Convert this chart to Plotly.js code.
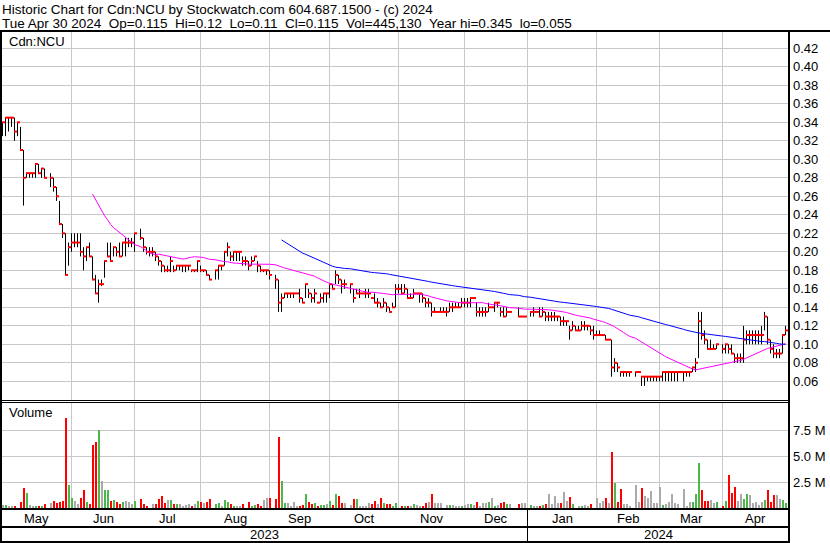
<!DOCTYPE html>
<html>
<head>
<meta charset="utf-8">
<script src="https://cdn.plot.ly/plotly-3.0.1.min.js"></script>
<style>
html,body{margin:0;padding:0;background:#fff;}
#chart{width:830px;height:543px;}
</style>
</head>
<body>
<div id="chart"></div>
<script>
// One slot per weekday, 1 May 2023 .. 30 Apr 2024 (null = exchange holiday)
const high = [
.34,.345,.345,.345,.345,.34,.335,.31,.285,.285,
.285,.295,.295,.29,.29,null,.285,.28,.27,.255,
.23,.22,.21,.22,.22,.22,.22,.205,.205,.21,
.195,.175,.17,.17,.19,.21,.21,.205,.205,.21,
.21,.215,.215,.215,.22,null,.225,.215,.205,.205,
.205,.20,.195,.19,.185,.185,.195,.185,.185,.185,
.185,.185,.185,.18,.18,.19,.185,.18,.18,.175,
null,.18,.185,.185,.20,.21,.20,.20,.20,.20,
.195,.195,.19,.195,.195,.19,.185,.18,.18,.18,
null,.175,.17,.155,.155,.155,.155,.155,.155,.16,
.15,.165,.16,.155,.16,.145,.155,.155,.155,.165,
.165,.18,.175,.17,.17,null,.165,.16,.16,.16,
.155,.16,.16,.15,.155,.15,.145,.15,.145,.14,
.145,.165,.165,.165,.165,.16,.155,.16,.155,.155,
.155,.15,.15,.145,.14,.135,.14,.14,.14,.145,
.145,.145,.145,.15,.15,.15,.15,.15,.145,.14,
.14,.14,.145,.14,.145,.145,.14,.14,.14,.135,
null,null,.14,.13,.13,null,.135,.14,.135,.14,
.14,.135,.135,.135,.135,.13,.13,.13,.125,.12,
.125,.12,.12,.125,.125,.12,.12,.12,.115,.115,
.11,.11,.105,.105,.085,.08,.07,.07,.07,.07,
null,.07,.07,.065,.065,.065,.065,.065,.065,.065,
.07,.07,.07,.07,.07,.07,.07,.07,.07,.07,
.075,.085,.135,.135,.115,.105,.105,.10,.10,null,
.10,.10,.10,.10,.09,.09,.09,.12,.115,.115,
.115,.115,.115,.12,.135,.13,.105,.10,.095,.095,
.11,.12
];
const low = [
.325,.325,.33,.335,.32,.325,.31,.25,.28,.28,
.28,.28,.285,.28,.28,null,.27,.265,.255,.23,
.215,.175,.185,.20,.205,.205,.195,.18,.19,.195,
.17,.155,.145,.163,.172,.195,.19,.195,.195,.195,
.195,.195,.205,.205,.20,null,.213,.20,.197,.195,
.195,.19,.185,.178,.178,.178,.178,.178,.18,.18,
.178,.178,.18,.178,.178,.178,.178,.178,.175,.17,
null,.17,.17,.18,.185,.195,.19,.19,.19,.19,
.185,.185,.18,.185,.19,.178,.178,.178,.175,.17,
null,.16,.135,.135,.15,.15,.15,.15,.155,.145,
.145,.15,.15,.145,.145,.145,.145,.145,.145,.15,
.16,.165,.165,.155,.16,null,.155,.145,.155,.15,
.155,.15,.15,.15,.145,.14,.14,.14,.135,.135,
.14,.14,.155,.155,.155,.15,.15,.15,.155,.145,
.145,.14,.14,.13,.135,.135,.135,.135,.13,.135,
.135,.14,.14,.14,.14,.14,.14,.15,.13,.13,
.13,.13,.135,.14,.135,.14,.13,.13,.13,.135,
null,null,.13,.13,.13,null,.13,.13,.135,.13,
.13,.125,.125,.125,.125,.125,.12,.12,.12,.105,
.115,.115,.115,.115,.115,.115,.11,.105,.11,.11,
.11,.105,.105,.065,.07,.07,.065,.065,.065,.065,
null,.065,.07,.055,.055,.06,.06,.06,.06,.06,
.06,.06,.06,.06,.06,.06,.07,.06,.065,.065,
.07,.07,.085,.105,.10,.095,.095,.095,.095,null,
.09,.09,.09,.09,.08,.08,.08,.08,.10,.10,
.10,.10,.10,.10,.115,.10,.09,.085,.085,.085,
.09,.11
];
const close = [
.34,.345,.345,.345,.33,.34,.31,.28,.285,.285,
.285,.295,.285,.29,.28,null,.28,.27,.26,.23,
.22,.175,.205,.21,.21,.21,.20,.195,.205,.195,
.17,.155,.165,.165,.19,.195,.19,.205,.20,.195,
.21,.21,.21,.21,.22,null,.215,.205,.20,.20,
.20,.195,.19,.185,.18,.18,.19,.18,.185,.185,
.185,.185,.185,.18,.18,.19,.18,.18,.175,.17,
null,.18,.185,.185,.20,.205,.195,.20,.20,.20,
.19,.19,.185,.19,.195,.185,.18,.18,.18,.175,
null,.17,.145,.15,.155,.155,.155,.155,.155,.15,
.145,.165,.155,.15,.155,.145,.15,.155,.155,.165,
.16,.175,.17,.165,.165,null,.165,.15,.155,.155,
.155,.155,.155,.15,.145,.145,.14,.145,.14,.135,
.14,.16,.16,.155,.16,.15,.15,.155,.155,.155,
.15,.145,.145,.135,.135,.135,.135,.135,.135,.14,
.14,.14,.14,.145,.145,.145,.15,.15,.135,.135,
.135,.135,.14,.14,.145,.145,.135,.13,.135,.135,
null,null,.13,.13,.13,null,.135,.135,.135,.13,
.135,.13,.13,.13,.13,.13,.125,.125,.125,.115,
.12,.115,.115,.12,.12,.12,.115,.11,.11,.11,
.11,.105,.105,.075,.08,.075,.07,.07,.07,.07,
null,.07,.07,.065,.065,.065,.065,.065,.065,.065,
.07,.07,.07,.07,.07,.07,.07,.07,.07,.07,
.075,.08,.125,.11,.105,.095,.095,.095,.10,null,
.095,.10,.095,.09,.085,.085,.085,.105,.11,.11,
.11,.11,.11,.11,.13,.105,.095,.09,.09,.09,
.11,.115
];
// daily volume, millions of shares
const volume = [
.29,.26,.21,.2,.19,0,.61,1.96,1.46,.29,
.19,.19,.19,.2,.42,null,.51,.66,.46,.56,
.71,8.66,2.21,.99,.71,.42,.99,1.73,.58,.42,
6.06,6.36,7.46,2.56,1.76,1.76,.66,.76,.54,.36,
.61,.66,.54,.36,.66,null,.86,.38,.19,0,
.38,.38,.86,1.16,.51,.76,.76,.36,.36,.38,
.22,.29,.38,.19,.36,.66,.54,.44,.54,.86,
null,.36,.51,.22,.76,.61,.36,.22,.22,.22,
.42,0,.61,.19,.26,.38,.22,.76,.99,.93,
null,.86,6.86,2.56,.51,.51,.22,.61,.22,.22,
.29,1.36,.61,.36,.51,.19,.29,.29,.36,.66,
.29,1.36,1.16,.51,.44,null,.29,.86,.86,.22,
.22,.22,.51,.36,.66,.36,.96,.44,.42,.38,
.22,.51,0,.22,.22,.22,.22,.42,.29,.19,
.18,.51,.61,1.36,.44,.51,.51,0,.29,.29,
.29,.19,.18,.19,.29,.36,.42,.26,.61,.19,
.51,.44,.54,.99,.19,.29,.51,.61,.36,.36,
null,null,.38,.51,.51,null,.29,.18,.18,.22,
.29,.38,1.36,.36,1.16,.44,.51,1.56,.66,1.09,
.38,0,.19,.19,.29,.19,.38,0,.99,.51,
.66,.99,.51,5.41,2.36,.61,1.82,.36,.36,.19,
null,2.21,.61,1.92,1.16,.93,1.66,.51,.44,2.02,
.29,.36,.54,1.36,.51,.38,0,1.82,.22,.61,
.61,1.36,4.36,1.73,.66,.66,.74,.51,.61,null,
.18,.66,3.16,1.46,2.02,.66,1.31,.86,1.31,1.26,
.51,.61,.29,.54,.74,1.73,.61,1.26,1.26,.86,
.74,.445
];
const monthNames = ['May','Jun','Jul','Aug','Sep','Oct','Nov','Dec','Jan','Feb','Mar','Apr'];
const monthGridIdx = [23,44,66,89,109,132,154,175,198,219,240];
const yearNames = ['2023','2024'];
const yearSplitIdx = 175;
const priceTicks = [0.06,0.08,0.10,0.12,0.14,0.16,0.18,0.20,0.22,0.24,0.26,0.28,0.30,0.32,0.34,0.36,0.38,0.40,0.42];
const volTicks = [2.5,5,7.5];
const volTickText = ['2.5 M','5.0 M','7.5 M'];
const titleLine1 = 'Historic Chart for Cdn:NCU by Stockwatch.com 604.687.1500 - (c) 2024';
const titleLine2 = ['Tue Apr 30 2024','Op=0.115','Hi=0.12','Lo=0.11','Cl=0.115','Vol=445,130','Year hi=0.345','lo=0.055'];
const symbolLabel = 'Cdn:NCU';
const maShort = 30, maLong = 90;

// ---------- build ----------
const W = 830, H = 543;
const fx = p => p / W, fy = p => 1 - p / H;
const N = close.length;
const FONT = 'Liberation Sans, Arial, Helvetica, sans-serif';
const GRID = '#c8c8c8';

const hlX = [], hlY = [], cX = [], cY = [];
for (let i = 0; i < N; i++) {
  if (close[i] == null) continue;
  if (high[i] > low[i]) { hlX.push(i, i, null); hlY.push(low[i], high[i], null); }
  cX.push(i - 1/6, i + 5/6, null); cY.push(close[i], close[i], null);
}
function sma(n) {
  const xs = [], ys = [], hist = [];
  for (let i = 0; i < N; i++) {
    if (close[i] == null) continue;
    hist.push(close[i]);
    if (hist.length >= n) {
      let s = 0; for (let k = hist.length - n; k < hist.length; k++) s += hist[k];
      xs.push(i); ys.push(s / n);
    }
  }
  return {xs, ys};
}
const m1 = sma(maShort), m2 = sma(maLong);
const volColors = []; let prev = null;
for (let i = 0; i < N; i++) {
  const c = close[i];
  if (c == null) { volColors.push('#aaaaaa'); continue; }
  volColors.push(prev == null || c === prev ? '#aaaaaa' : (c > prev ? '#4cb84c' : '#ff0000'));
  prev = c;
}
const idx = close.map((_, i) => i);

const traces = [
  {type:'scatter', mode:'lines', x:hlX, y:hlY, line:{color:'#000', width:1}, hoverinfo:'skip', xaxis:'x', yaxis:'y'},
  {type:'scatter', mode:'lines', x:cX, y:cY, line:{color:'#ff0000', width:2}, hoverinfo:'skip', xaxis:'x', yaxis:'y'},
  {type:'scatter', mode:'lines', x:m1.xs, y:m1.ys, line:{color:'#ff00ff', width:1}, hoverinfo:'skip', xaxis:'x', yaxis:'y'},
  {type:'scatter', mode:'lines', x:m2.xs, y:m2.ys, line:{color:'#0000ff', width:1}, hoverinfo:'skip', xaxis:'x', yaxis:'y'},
  {type:'bar', x:idx, y:volume, width:2/3, offset:-1/6, marker:{color:volColors, line:{width:0}}, hoverinfo:'skip', xaxis:'x2', yaxis:'y2'}
];

const xRange = [-1/6, 262 + 1/6];
const xCommon = {
  domain:[fx(2), fx(789)], range:xRange, tickvals:monthGridIdx, showticklabels:false,
  showgrid:true, gridcolor:GRID, gridwidth:1, zeroline:false, showline:false, ticks:'', fixedrange:true
};
const yFont = {family:FONT, size:13, color:'#000'};
const layout = {
  width:W, height:H, margin:{l:0,r:0,t:0,b:0}, paper_bgcolor:'#fff', plot_bgcolor:'#fff',
  showlegend:false, bargap:0,
  xaxis: Object.assign({anchor:'y'}, xCommon),
  xaxis2: Object.assign({anchor:'y2', matches:'x'}, xCommon),
  yaxis: {domain:[fy(400), fy(32)], range:[0.03978, 0.43762], side:'right', anchor:'x',
    tickvals:priceTicks, ticktext:priceTicks.map(v => v.toFixed(2)), tickfont:yFont,
    showgrid:true, gridcolor:GRID, zeroline:false, showline:false, ticks:'', ticklabelstandoff:3, fixedrange:true},
  yaxis2: {domain:[fy(508), fy(402)], range:[0, 10.2], side:'right', anchor:'x2',
    tickvals:volTicks, ticktext:volTickText, tickfont:yFont,
    showgrid:true, gridcolor:GRID, zeroline:false, showline:false, ticks:'', ticklabelstandoff:3, fixedrange:true},
  shapes: [], annotations: []
};
function rect(x0, y0, x1, y1) {
  layout.shapes.push({type:'rect', xref:'paper', yref:'paper', x0:fx(x0), x1:fx(x1), y0:fy(y1), y1:fy(y0),
    fillcolor:'#000', line:{width:0}, layer:'above'});
}
rect(0, 30, 830, 32);     // top border
rect(0, 30, 2, 543);      // left border
rect(788, 30, 790, 543);  // plot right border
rect(0, 400, 789, 401);   // separator (double line)
rect(0, 402, 789, 403);
rect(0, 508, 790, 510);   // bottom of volume
rect(0, 526, 790, 528);   // month row bottom
rect(0, 541, 790, 543);   // outer bottom
const xPix = s => 2.5 + 3 * s;
rect(Math.floor(xPix(yearSplitIdx)), 510, Math.floor(xPix(yearSplitIdx)) + 1, 541); // year split

const ann = (text, x, y, xref, xanchor, size) => layout.annotations.push({
  text, x, y, xref, yref:'paper', xanchor, yanchor:'middle', showarrow:false,
  font:{family:FONT, size:size || 13, color:'#000'}, borderpad:0
});
ann(titleLine1, fx(1), fy(9.5), 'paper', 'left', 13.5);
ann(titleLine2.join('\u00a0\u00a0'), fx(1), fy(23.5), 'paper', 'left', 13.5);
ann(symbolLabel, fx(8), fy(41), 'paper', 'left');
ann('Volume', fx(8), fy(413), 'paper', 'left');
const bounds = [-1/6].concat(monthGridIdx, [262 + 1/6]);
monthNames.forEach((m, k) => ann(m, (bounds[k] + bounds[k+1]) / 2, fy(518.5), 'x', 'center'));
ann(yearNames[0], (-1/6 + yearSplitIdx) / 2, fy(534.5), 'x', 'center');
ann(yearNames[1], (yearSplitIdx + 262 + 1/6) / 2, fy(534.5), 'x', 'center');

Plotly.newPlot('chart', traces, layout, {staticPlot:true, displayModeBar:false});
</script>
</body>
</html>
